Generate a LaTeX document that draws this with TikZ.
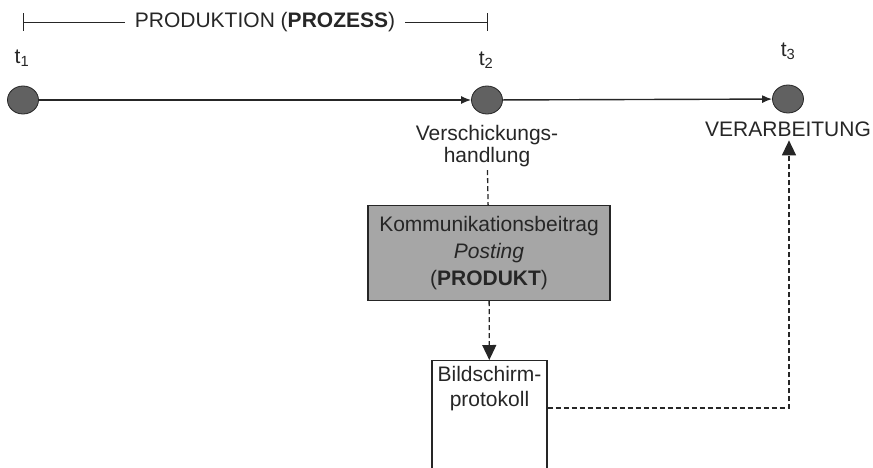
\documentclass[tikz,border=0pt]{standalone}
\usepackage{fontspec}
\setmainfont{Liberation Sans}
\usetikzlibrary{positioning, arrows.meta, shapes.geometric}
\tikzset{point/.style={ellipse, draw=black!85, fill=black!62, thick, minimum width=31pt, minimum height=28pt, inner sep=0pt},
txt/.style={font=\fontsize{21}{25}\selectfont, align=center, text=black!85},
line/.style={-{Latex[length=10pt,width=8pt]}, line width=1.4pt, draw=black!85},
dline/.style={line width=1.3pt, draw=black!85, dash pattern=on 5pt off 3pt},
bigtip/.style={-{Triangle[length=15pt,width=14pt]}}
}

\begin{document}
\begin{tikzpicture}[x=1pt,y=-1pt]
\useasboundingbox (0,0) rectangle (873,467);
\clip (0,0) rectangle (873,467);

% time points
\node[point] (t1) at (23,100) {};
\node[point] (t2) at (487,100) {};
\node[point] (t3) at (788,99) {};
\node[txt] (l1) at (22,58) {t\textsubscript{1}};
\node[txt] (l2) at (486,60) {t\textsubscript{2}};
\node[txt] (l3) at (788,51) {t\textsubscript{3}};

\draw[line] (t1) -- (t2);
\draw[line] (t2) -- (t3);

% process bracket
\coordinate (b1) at (23,22);
\coordinate (b2) at (487,22);
\node[txt, inner xsep=10pt] (prod) at (265,22) {PRODUKTION (\textbf{PROZESS})};
\draw[line width=1pt, black!85] (b1) -- (prod.west) (prod.east) -- (b2);
\draw[line width=1pt, black!85] ([yshift=9pt]b1) -- ([yshift=-9pt]b1);
\draw[line width=1pt, black!85] ([yshift=9pt]b2) -- ([yshift=-9pt]b2);

\node[txt, below=7pt of t2, font=\fontsize{21}{22}\selectfont] (send) {Verschickungs-\\handlung};
\node[txt, below=5pt of t3] (verarb) {VERARBEITUNG};

% product
\node[txt, draw=black!85, line width=1.3pt, fill=black!35, minimum width=242pt, minimum height=95pt, font=\fontsize{21}{27}\selectfont] (post) at (489,253) {Kommunikationsbeitrag\\\textit{Posting}\\(\textbf{PRODUKT})};

\node[draw=black!85, line width=1.3pt, minimum width=115pt, minimum height=140pt, anchor=north] (screen) at (489.5,360) {};
\node[txt, below=3pt of screen.north] (screentxt) {Bildschirm-\\protokoll};

\coordinate (corner) at (789,408);
\draw[dline] (send) -- (post);
\draw[dline, bigtip] (post) -- (screen);
\draw[dline, bigtip] (screen.east |- corner) -- (corner) -- (corner |- verarb.south);
\end{tikzpicture}
\end{document}
